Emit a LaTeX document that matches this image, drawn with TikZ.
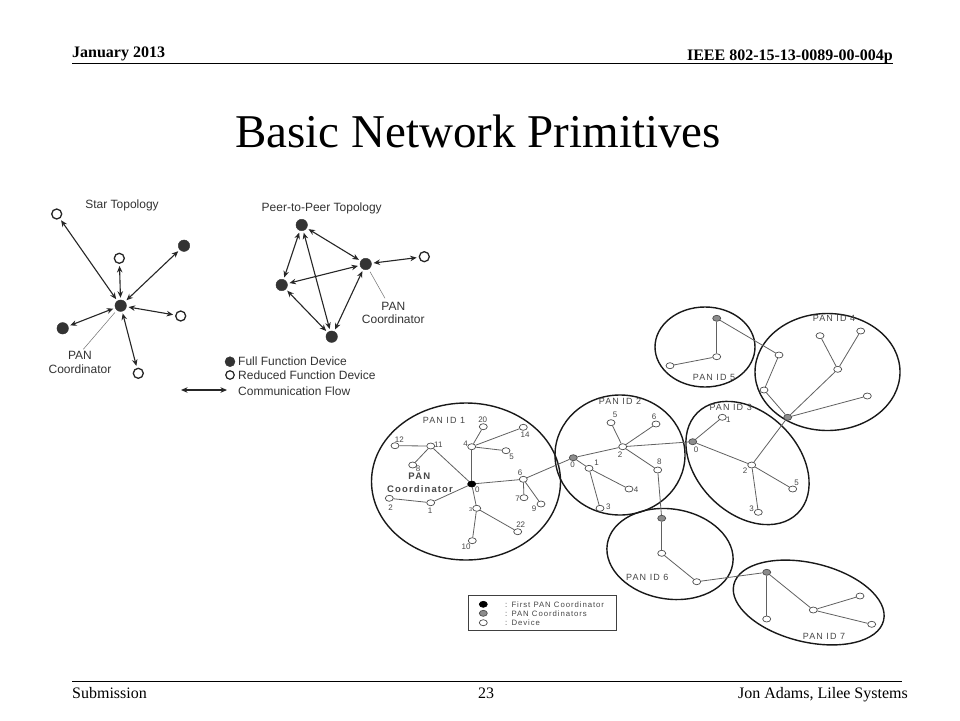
\documentclass[tikz,border=0pt]{standalone}
\usepackage{fontspec}
\setmainfont{Liberation Serif}
\setsansfont{Liberation Sans}
\newfontfamily\spsans[LetterSpace=12]{Liberation Sans}
\usetikzlibrary{arrows.meta,shapes.geometric}
\begin{document}
\begin{tikzpicture}[x=1pt,y=-1pt,
  ffd/.style={circle, fill=black!80, draw=black!80, minimum size=11.5pt, inner sep=0pt},
  rfd/.style={circle, fill=white, draw=black!85, line width=1.3pt, minimum size=10pt, inner sep=0pt},
  flow/.style={{Stealth[length=6.5pt,width=5.5pt]}-{Stealth[length=6.5pt,width=5.5pt]}, line width=1.1pt, draw=black!85, shorten <=2pt, shorten >=2pt},
  pointer/.style={draw=black!55, line width=0.5pt},
  dev/.style={ellipse, draw=black!70, fill=white, line width=0.7pt, minimum width=8pt, minimum height=6pt, inner sep=0pt},
  pcoord/.style={dev, fill=black!45},
  fcoord/.style={dev, fill=black, draw=black},
  link/.style={draw=black!62, line width=0.8pt},
  pan/.style={ellipse, draw=black!90, line width=1.4pt, inner sep=0pt},
  topo/.style={font=\sffamily\fontsize{12}{13.5}\selectfont, text=black!80, inner sep=0pt, align=center},
  num/.style={font=\sffamily\fontsize{8}{8.5}\selectfont, text=black!72, inner sep=0pt},
  panlbl/.style={font=\spsans\fontsize{9}{9.5}\selectfont, text=black!72, inner sep=0pt},
  leg/.style={font=\spsans\fontsize{7.8}{8}\selectfont, text=black!72, inner sep=0pt, anchor=west}
]
\useasboundingbox (0,0) rectangle (960,720);
\fill[white] (0,0) rectangle (960,720);

% ---------- header / footer ----------
\node[anchor=base west, inner sep=0pt, font=\bfseries\fontsize{16}{16}\selectfont] (hdate) at (72,57.5) {January 2013};
\node[anchor=base east, inner sep=0pt, font=\bfseries\fontsize{16}{16}\selectfont] (hdoc) at (893,60) {IEEE 802-15-13-0089-00-004p};
\coordinate (hl1) at (72,63.5); \coordinate (hl2) at (893,63.5);
\draw[line width=1.4pt] (hl1) -- (hl2);
\node[anchor=base, inner sep=0pt, font=\fontsize{47}{47}\selectfont] (title) at (478,147) {Basic Network Primitives};
\coordinate (fl1) at (72,681); \coordinate (fl2) at (902,681);
\draw[line width=1pt] (fl1) -- (fl2);
\node[anchor=base west, inner sep=0pt, font=\fontsize{16}{16}\selectfont] (fsub) at (72,698) {Submission};
\node[anchor=base, inner sep=0pt, font=\fontsize{16}{16}\selectfont] (fpage) at (486,698) {23};
\node[anchor=base east, inner sep=0pt, font=\fontsize{16}{16}\selectfont] (fauth) at (908,698) {Jon Adams, Lilee Systems};

% ---------- star topology ----------
\node[topo] (stt) at (122,205) {Star Topology};
\node[rfd] (s1) at (56.7,214) {};
\node[ffd] (sc) at (120.7,305.7) {};
\node[rfd] (s2) at (119.3,258.3) {};
\node[ffd] (s3) at (184,245.7) {};
\node[rfd] (s4) at (180.7,316) {};
\node[ffd] (s5) at (62.7,328.3) {};
\node[rfd] (s6) at (138.3,373.3) {};
\foreach \t in {s1,s2,s3,s4,s5,s6} \draw[flow] (sc) -- (\t);
\node[topo] (spc) at (80,362.5) {PAN\\Coordinator};
\coordinate (spcp) at (83.3,349.3);
\draw[pointer, shorten <=3pt] (sc) -- (spcp);

% ---------- peer-to-peer topology ----------
\node[topo] (ptt) at (321.7,208.3) {Peer-to-Peer Topology};
\node[ffd] (pa) at (301.7,225) {};
\node[ffd] (pb) at (365.7,264) {};
\node[ffd] (pc) at (281.7,285) {};
\node[ffd] (pd) at (331.7,336.7) {};
\node[rfd] (pe) at (424.3,256.7) {};
\draw[flow] (pa) -- (pb);
\draw[flow] (pa) -- (pc);
\draw[flow] (pa) -- (pd);
\draw[flow] (pc) -- (pb);
\draw[flow] (pc) -- (pd);
\draw[flow] (pd) -- (pb);
\draw[flow] (pb) -- (pe);
\node[topo] (ppc) at (393.3,313) {PAN\\Coordinator};
\coordinate (ppcp) at (385,298.3);
\draw[pointer, shorten <=3pt] (pb) -- (ppcp);

% ---------- topology legend ----------
\node[ffd, minimum size=10pt] (lf) at (230,361.7) {};
\node[rfd, minimum size=8.5pt, line width=1.2pt] (lr) at (230,375) {};
\node[topo, anchor=west] (lft) at (238,361.7) {Full Function Device};
\node[topo, anchor=west] (lrt) at (238,375.5) {Reduced Function Device};
\coordinate (la1) at (181,390); \coordinate (la2) at (227,390);
\draw[flow, shorten <=0pt, shorten >=0pt] (la1) -- (la2);
\node[topo, anchor=west] (lct) at (238,391) {Communication Flow};

% ---------- cluster tree: PAN ellipses ----------
\node[pan, minimum width=189pt, minimum height=157pt] (pan1) at (466,481.5) {};
\node[pan, minimum width=130pt, minimum height=120pt] (pan2) at (620,455) {};
\node[pan, minimum width=142pt, minimum height=101pt, rotate=-45] (pan3) at (747.5,463) {};
\node[pan, minimum width=145pt, minimum height=117pt] (pan4) at (827.5,372) {};
\node[pan, minimum width=100pt, minimum height=80pt] (pan5) at (705,347) {};
\node[pan, minimum width=127pt, minimum height=90pt, rotate=-9] (pan6) at (670,554) {};
\node[pan, minimum width=154pt, minimum height=79pt, rotate=-13.5] (pan7) at (808.7,602.5) {};

\node[panlbl] (pl1) at (444,420) {PAN ID 1};
\node[panlbl] (pl2) at (620,401.7) {PAN ID 2};
\node[panlbl] (pl3) at (730.7,407.3) {PAN ID 3};
\node[panlbl] (pl4) at (834,318.3) {PAN ID 4};
\node[panlbl] (pl5) at (714,377.3) {PAN ID 5};
\node[panlbl] (pl6) at (647.3,577.7) {PAN ID 6};
\node[panlbl] (pl7) at (824,636) {PAN ID 7};

% ---------- PAN 1 ----------
\node[fcoord] (a0) at (471.7,484) {};
\node[dev] (a4) at (471.7,446.7) {};
\node[dev] (a20) at (483.3,426.7) {};
\node[dev] (a14) at (523.3,427.3) {};
\node[dev] (a5) at (506,450.7) {};
\node[dev] (a11) at (430.7,446) {};
\node[dev] (a12) at (395,445.7) {};
\node[dev] (a8) at (412.7,465) {};
\node[dev] (a6) at (523.3,479.3) {};
\node[dev] (a7) at (524,497.7) {};
\node[dev] (a9) at (541,504) {};
\node[dev] (a1) at (430.7,502.7) {};
\node[dev] (a2) at (389.3,498.3) {};
\node[dev] (a3) at (476.7,508.3) {};
\node[dev] (a22) at (517.7,531.7) {};
\node[dev] (a10) at (472.3,540.7) {};
\node[num] (la0) at (477.3,490) {0};
\node[num] (la4) at (465.7,444) {4};
\node[num] (la20) at (482.7,419.3) {20};
\node[num] (la14) at (525,434.3) {14};
\node[num] (la5) at (511.7,456.7) {5};
\node[num] (la11) at (438.3,445) {11};
\node[num] (la12) at (399.3,439.3) {12};
\node[num] (la8) at (418,468.7) {8};
\node[num] (la6) at (520,472.7) {6};
\node[num] (la7) at (517.7,499) {7};
\node[num] (la9) at (534,508.3) {9};
\node[num] (la1) at (430,511) {1};
\node[num] (la2) at (390.7,507.7) {2};
\node[num, font=\sffamily\fontsize{5.5}{6}\selectfont] (la3) at (470.7,509.3) {3};
\node[num] (la22) at (520.7,524.7) {22};
\node[num] (la10) at (466,546.7) {10};
\node[inner sep=0pt, text=black!72, font=\spsans\bfseries\fontsize{9.5}{10}\selectfont] (apan) at (419.3,476) {PAN};
\node[inner sep=0pt, text=black!72, font=\spsans\bfseries\fontsize{9.5}{10}\selectfont] (acoord) at (420,489.3) {Coordinator};

% ---------- PAN 2 ----------
\node[pcoord] (b0) at (573.3,457.7) {};
\node[dev] (b2) at (622.7,446.7) {};
\node[dev] (b5) at (611,422.7) {};
\node[dev] (b6) at (656,424) {};
\node[dev] (b8) at (657.7,470) {};
\node[dev] (b1) at (589,468.3) {};
\node[dev] (b4) at (629,489) {};
\node[dev] (b3) at (600,508.3) {};
\node[num] (lb0) at (572.7,465) {0};
\node[num] (lb2) at (620,455) {2};
\node[num] (lb5) at (615,415) {5};
\node[num] (lb6) at (654,416.7) {6};
\node[num] (lb8) at (659.3,461.7) {8};
\node[num] (lb1) at (596.7,462.7) {1};
\node[num] (lb4) at (636,490) {4};
\node[num] (lb3) at (608.3,506.7) {3};

% ---------- PAN 3 ----------
\node[pcoord] (c0) at (692.7,441.7) {};
\node[dev] (c1) at (722.3,417.3) {};
\node[dev] (c2) at (751.7,465) {};
\node[dev] (c5) at (792.7,489) {};
\node[dev] (c3) at (758.3,512.3) {};
\node[num] (lc0) at (696,450) {0};
\node[num] (lc1) at (728.3,420) {1};
\node[num] (lc2) at (745,470.7) {2};
\node[num] (lc5) at (796.7,482.7) {5};
\node[num] (lc3) at (751.7,508.3) {3};

% ---------- PAN 4 ----------
\node[pcoord] (d0) at (787.7,417.3) {};
\node[dev] (da) at (779,355) {};
\node[dev] (db) at (764,390) {};
\node[dev] (dc) at (837.7,369.3) {};
\node[dev] (dd) at (820,335.7) {};
\node[dev] (de) at (860.7,331) {};
\node[dev] (df) at (867.3,396) {};

% ---------- PAN 5 ----------
\node[pcoord] (e0) at (716.7,318.3) {};
\node[dev] (e1) at (716.7,356.7) {};
\node[dev] (e2) at (670,365.7) {};

% ---------- PAN 6 ----------
\node[pcoord] (f0) at (661.7,518.3) {};
\node[dev] (f1) at (661.7,553.3) {};
\node[dev] (f2) at (696.7,581.7) {};

% ---------- PAN 7 ----------
\node[pcoord] (g0) at (766.7,572.3) {};
\node[dev] (g1) at (766.7,619) {};
\node[dev] (g2) at (813.3,610) {};
\node[dev] (g3) at (860,596) {};
\node[dev] (g4) at (871.7,624.3) {};

% ---------- links ----------
\foreach \u/\v in {a0/a4,a4/a20,a4/a14,a4/a5,a0/a11,a11/a12,a11/a8,a0/a6,a6/a7,a6/a9,a0/a1,a1/a2,a0/a3,a3/a22,a3/a10,a6/b0,
  b0/b2,b2/b5,b2/b6,b2/b8,b0/b1,b1/b4,b1/b3,b8/f0,b2/c0,
  c0/c1,c0/c2,c2/c5,c2/c3,c2/d0,
  d0/db,db/da,da/e0,d0/dc,dc/dd,dc/de,d0/df,
  e0/e1,e1/e2,
  f0/f1,f1/f2,f2/g0,
  g0/g1,g0/g2,g2/g3,g2/g4}
  \draw[link] (\u) -- (\v);

% ---------- cluster legend ----------
\node[draw=black!75, line width=0.9pt, minimum width=148.4pt, minimum height=35pt, inner sep=0pt] (lbox) at (542.5,613.2) {};
\node[fcoord] (lg1) at (483.3,604.3) {};
\node[pcoord] (lg2) at (483.3,613.3) {};
\node[dev] (lg3) at (483.3,622.7) {};
\node[leg] (lgt1) at (505,604.3) {: First PAN Coordinator};
\node[leg] (lgt2) at (505,613.3) {: PAN Coordinators};
\node[leg] (lgt3) at (505,622.7) {: Device};
\end{tikzpicture}
\end{document}
